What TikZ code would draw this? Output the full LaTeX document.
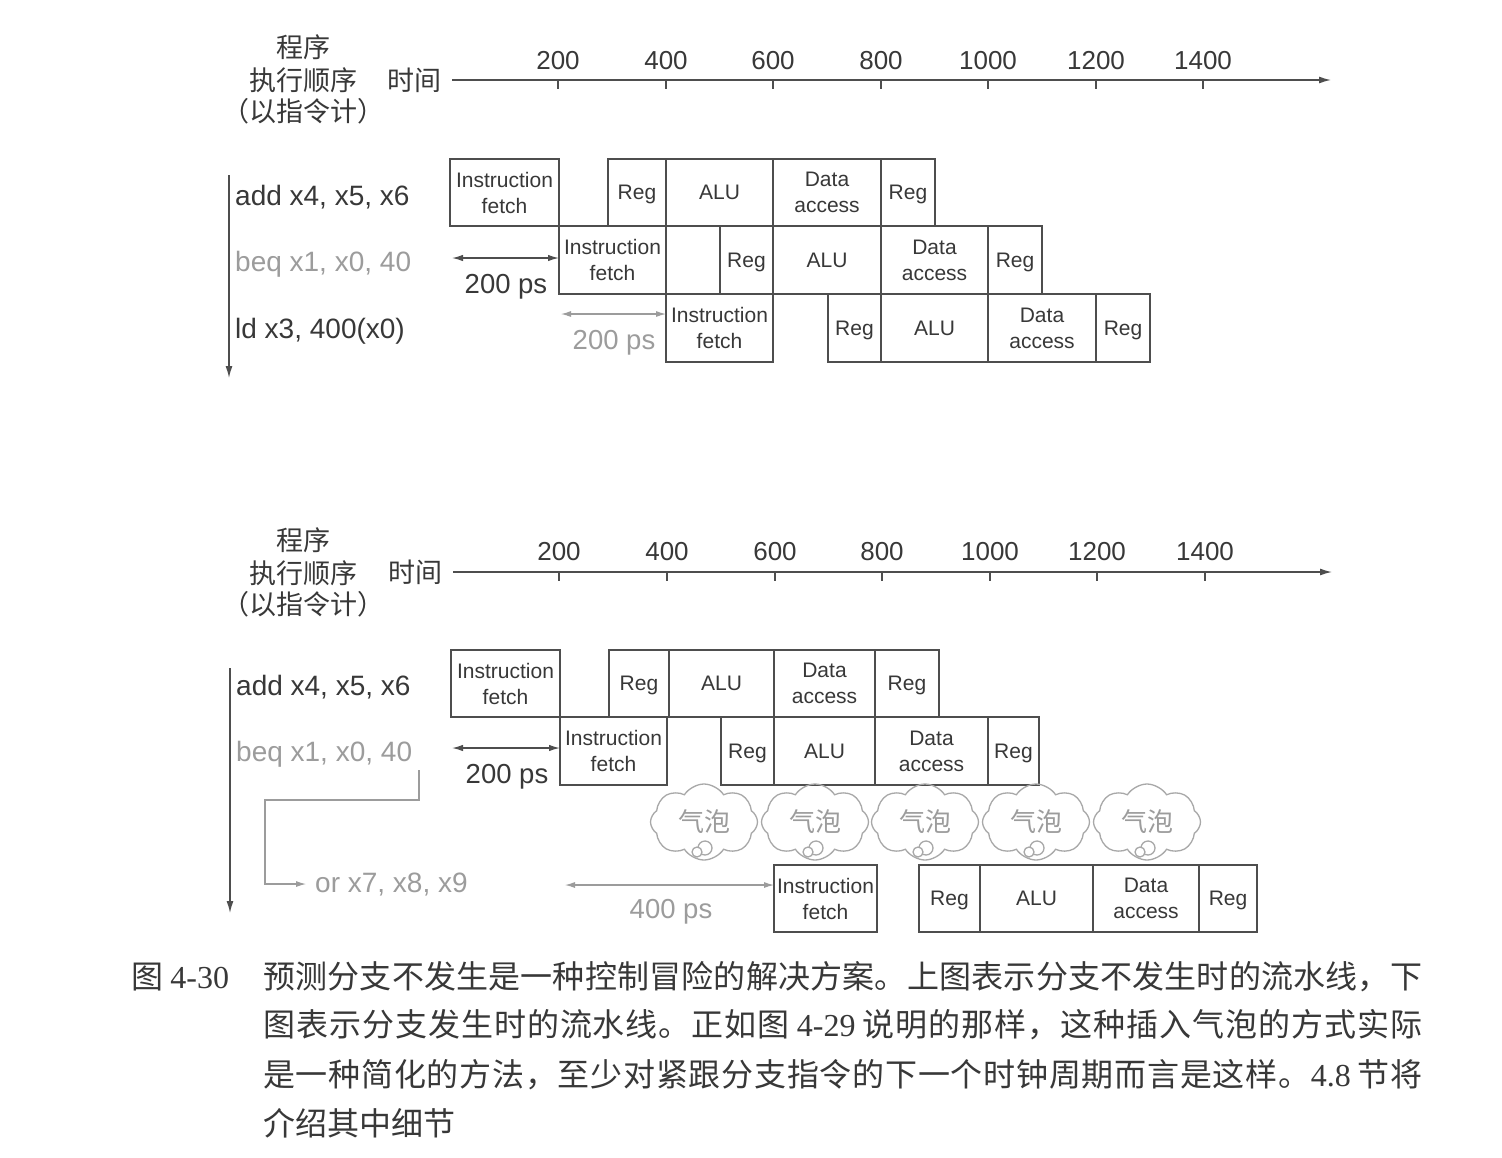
\documentclass[tikz,border=0pt]{standalone}
\usepackage{fontspec}
\setmainfont{Liberation Sans}
\newfontfamily\cjk{Noto Sans CJK SC}
\newfontfamily\sernum{Liberation Serif}
\usetikzlibrary{arrows.meta,shapes.symbols}
\definecolor{ink}{HTML}{383838}
\definecolor{boxln}{HTML}{4E4E4E}
\definecolor{faint}{HTML}{9C9C9C}
\definecolor{cldln}{HTML}{A8A8A8}
\makeatletter
\def\spreadto#1#2{\hbox to #1{\spr@#2\spr@end}}
\def\spr@#1#2\spr@end{#1\if\relax\detokenize{#2}\relax\else\hfill\spr@#2\spr@end\fi}
\makeatother
\newcommand\stagebox[6]{%
  \node[stg, minimum width={(#3)-(#2)}, minimum height={(#5)-(#4)}] (#1) at ({((#2)+(#3))/2},{((#4)+(#5))/2}) {#6};}
\tikzset{
  stg/.style={draw=boxln, line width=1.4pt, inner sep=0pt, outer sep=0pt, align=center, text depth=0pt, text=ink, font=\fontsize{21}{26}\selectfont},
  instr/.style={anchor=base west, inner sep=0pt, text=ink, font=\fontsize{28}{30}\selectfont},
  instrg/.style={instr, text=faint},
  ps/.style={anchor=base, inner sep=0pt, text=ink, font=\fontsize{27.5}{30}\selectfont},
  psg/.style={ps, text=faint},
  ticklbl/.style={inner sep=0pt, text=ink, font=\fontsize{26}{28}\selectfont},
  hdr/.style={inner sep=0pt, text=ink, font=\cjk\fontsize{27}{30}\selectfont},
  axisln/.style={draw=boxln, line width=1.4pt, -{Latex[length=12pt,width=7pt]}},
  tickln/.style={draw=boxln, line width=1.4pt},
  orderln/.style={draw=boxln, line width=1.4pt, -{Latex[length=12pt,width=7pt]}},
  spanln/.style={draw=boxln, line width=1.4pt, {Latex[length=11pt,width=6.5pt]}-{Latex[length=11pt,width=6.5pt]}},
  spang/.style={draw=faint, line width=1.1pt, {Latex[length=10pt,width=6pt]}-{Latex[length=10pt,width=6pt]}},
  brln/.style={draw=faint, line width=1.1pt, -{Latex[length=10pt,width=6pt]}},
  bubble/.style={cloud, cloud puffs=8, cloud puff arc=115, aspect=1.45, draw=cldln, line width=1.3pt, minimum width=107pt, minimum height=76pt, inner sep=0pt, text=faint, font=\cjk\fontsize{26}{28}\selectfont},
  puff/.style={draw=cldln, line width=1.3pt, fill=white},
  captxt/.style={anchor=west, inner sep=0pt, text=ink, font=\cjk\fontsize{32}{34}\selectfont},
}
\begin{document}
\begin{tikzpicture}[x=1pt,y=-1pt]
\fill[white] (0,0) rectangle (1502,1157);
\useasboundingbox (0,0) rectangle (1502,1157);

% ---------------- top diagram ----------------
\node[hdr] (hA1) at (303,47) {程序};
\node[hdr] (hA2) at (303,80) {执行顺序};
\node[hdr] (hA3) at (303,111) {（以指令计）};
\node[hdr] (tA) at (414,80) {时间};
\coordinate (axA0) at (452,80);
\coordinate (axA1) at (1331,80);
\draw[axisln] (axA0) -- (axA1);
\foreach \x/\l in {558/200,666/400,773/600,881/800,988/1000,1096/1200,1203/1400}{
  \draw[tickln] (\x,80) -- (\x,89);
  \node[ticklbl] (ta\l) at (\x,61) {\l};
}

\coordinate (oA0) at (229,175);
\coordinate (oA1) at (229,378);
\draw[orderln] (oA0) -- (oA1);
\node[instr] (iA1) at (235,205) {add x4, x5, x6};
\node[instrg] (iA2) at (235,271) {beq x1, x0, 40};
\node[instr] (iA3) at (235,338) {ld x3, 400(x0)};

\stagebox{IFa1}{450}{559}{159}{226}{Instruction\\fetch}
\stagebox{RGa1}{608}{666}{159}{226}{Reg}
\stagebox{ALa1}{666}{773}{159}{226}{ALU}
\stagebox{DAa1}{773}{881}{159}{226}{Data\\access}
\stagebox{RWa1}{881}{935}{159}{226}{Reg}

\stagebox{IFa2}{559}{666}{226}{294}{Instruction\\fetch}
\stagebox{RGa2}{720}{773}{226}{294}{Reg}
\stagebox{ALa2}{773}{881}{226}{294}{ALU}
\stagebox{DAa2}{881}{988}{226}{294}{Data\\access}
\stagebox{RWa2}{988}{1042}{226}{294}{Reg}

\stagebox{IFa3}{666}{773}{294}{362}{Instruction\\fetch}
\stagebox{RGa3}{828}{881}{294}{362}{Reg}
\stagebox{ALa3}{881}{988}{294}{362}{ALU}
\stagebox{DAa3}{988}{1096}{294}{362}{Data\\access}
\stagebox{RWa3}{1096}{1150}{294}{362}{Reg}

\coordinate (sA) at (452,258);
\draw[spanln] (sA) -- (sA -| IFa2.west);
\node[ps] (psA) at (506,293) {200 ps};
\coordinate (sB) at (561,314);
\draw[spang] (sB) -- (sB -| IFa3.west);
\node[psg] (psB) at (614,349) {200 ps};

% ---------------- bottom diagram ----------------
\node[hdr] (hB1) at (303,540) {程序};
\node[hdr] (hB2) at (303,573) {执行顺序};
\node[hdr] (hB3) at (303,604) {（以指令计）};
\node[hdr] (tB) at (415,572) {时间};
\coordinate (axB0) at (453,572);
\coordinate (axB1) at (1332,572);
\draw[axisln] (axB0) -- (axB1);
\foreach \x/\l in {559/200,667/400,775/600,882/800,990/1000,1097/1200,1205/1400}{
  \draw[tickln] (\x,572) -- (\x,581);
  \node[ticklbl] (tb\l) at (\x,552) {\l};
}

\coordinate (oB0) at (230,668);
\coordinate (oB1) at (230,913);
\draw[orderln] (oB0) -- (oB1);
\node[instr] (iB1) at (236,695) {add x4, x5, x6};
\node[instrg] (iB2) at (236,761) {beq x1, x0, 40};
\node[instrg] (orI) at (315,892) {or x7, x8, x9};
\coordinate (brA) at (419,770);
\coordinate (brB) at (265,800);
\draw[brln] (brA) |- (brB) |- ([xshift=-9pt]orI.west);

\stagebox{IFb1}{451}{560}{650}{717}{Instruction\\fetch}
\stagebox{RGb1}{609}{669}{650}{717}{Reg}
\stagebox{ALb1}{669}{774}{650}{717}{ALU}
\stagebox{DAb1}{774}{875}{650}{717}{Data\\access}
\stagebox{RWb1}{875}{939}{650}{717}{Reg}

\stagebox{IFb2}{560}{667}{717}{785}{Instruction\\fetch}
\stagebox{RGb2}{721}{774}{717}{785}{Reg}
\stagebox{ALb2}{774}{875}{717}{785}{ALU}
\stagebox{DAb2}{875}{988}{717}{785}{Data\\access}
\stagebox{RWb2}{988}{1039}{717}{785}{Reg}

\stagebox{IFb3}{774}{877}{865}{932}{Instruction\\fetch}
\stagebox{RGb3}{919}{980}{865}{932}{Reg}
\stagebox{ALb3}{980}{1093}{865}{932}{ALU}
\stagebox{DAb3}{1093}{1199}{865}{932}{Data\\access}
\stagebox{RWb3}{1199}{1257}{865}{932}{Reg}

\foreach \i/\cx in {1/704,2/815,3/925,4/1036,5/1147}{
  \node[bubble] (bub\i) at (\cx,822) {气泡};
  \draw[puff] ([shift={(1,26)}]bub\i.center) circle[radius=7pt];
  \draw[puff] ([shift={(-7,30)}]bub\i.center) circle[radius=5pt];
}

\coordinate (sC) at (452,748);
\draw[spanln] (sC) -- (sC -| IFb2.west);
\node[ps] (psC) at (507,783) {200 ps};
\coordinate (sD) at (565,885);
\draw[spang] (sD) -- (sD -| IFb3.west);
\node[psg] (psD) at (671,918) {400 ps};

% ---------------- caption ----------------
\node[captxt] (cap0) at (131,977) {图 {\sernum 4-30}};
\node[captxt] (cap1) at (263,977) {\spreadto{1159pt}{预测分支不发生是一种控制冒险的解决方案。上图表示分支不发生时的流水线，下}};
\node[captxt] (cap2) at (263,1025) {\spreadto{1159pt}{图表示分支发生时的流水线。正如图{\hspace{5pt}}{{\sernum 4-29}}{\hspace{5pt}}说明的那样，这种插入气泡的方式实际}};
\node[captxt] (cap3) at (263,1075) {\spreadto{1159pt}{是一种简化的方法，至少对紧跟分支指令的下一个时钟周期而言是这样。{{\sernum 4.8}}{\hspace{5pt}}节将}};
\node[captxt] (cap4) at (263,1123) {介绍其中细节};
\end{tikzpicture}
\end{document}
